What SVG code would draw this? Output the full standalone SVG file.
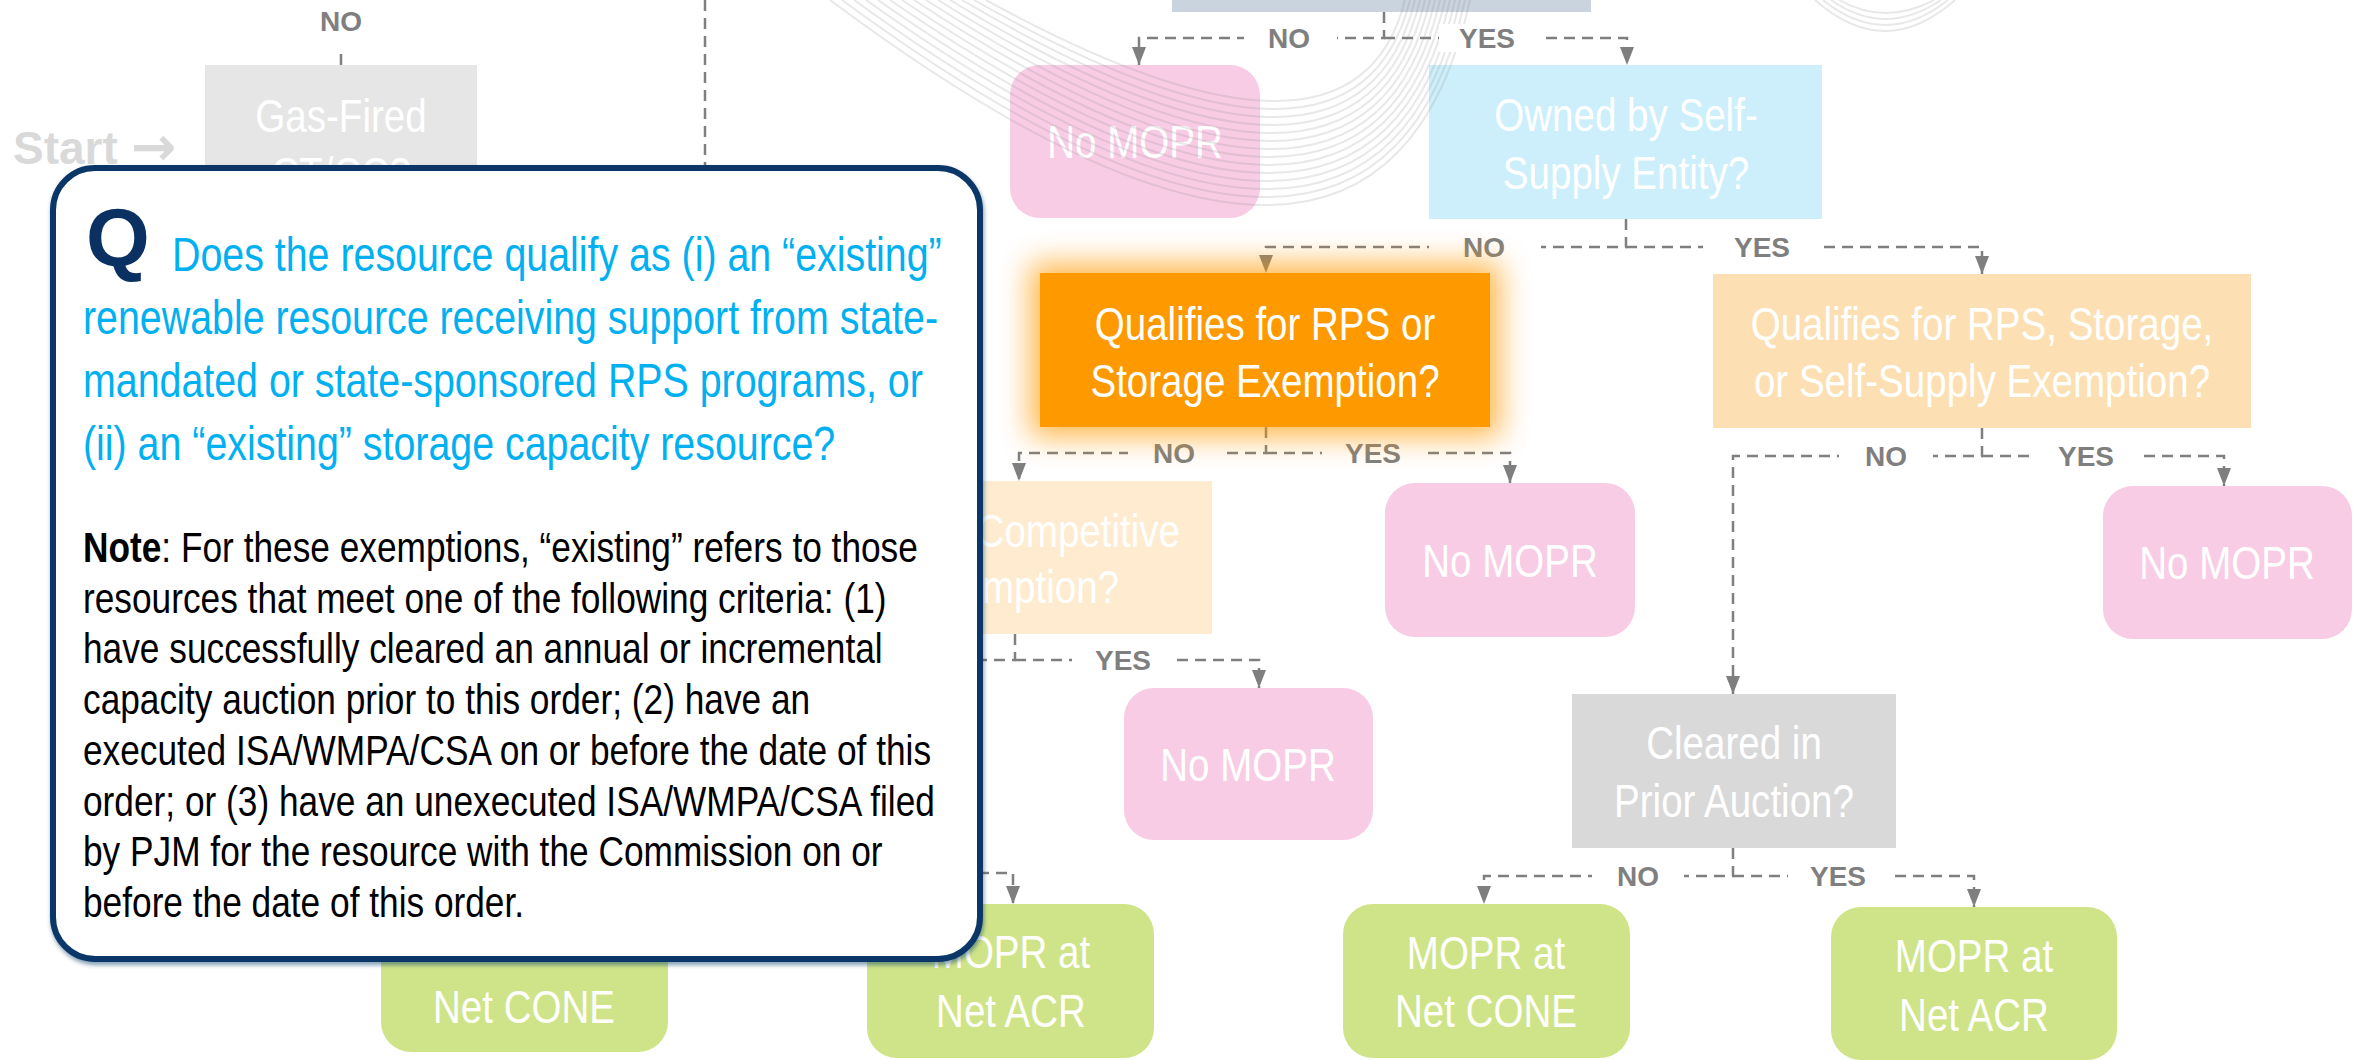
<svg xmlns="http://www.w3.org/2000/svg" width="2369" height="1060" viewBox="0 0 2369 1060">
<defs>
<style>
.nt{font-family:"Liberation Sans Narrow","Liberation Sans",Arial,sans-serif;font-size:47px;fill:#fff;text-anchor:middle}
.ne{text-anchor:end}
.lb{font-family:"Liberation Sans",Arial,sans-serif;font-weight:bold;font-size:28px;fill:#7f7f7f;text-anchor:middle}
.cn{fill:none;stroke:#7f7f7f;stroke-width:2.5;stroke-dasharray:11 7}
.ar{marker-end:url(#ah)}
.lbg{fill:#fff}
.pink{fill:#f8cce5}
.green{fill:#cfe488}
.arc{fill:none;stroke:#8a8a8a;stroke-opacity:.2;stroke-width:2}
.q{font-family:"Liberation Sans Narrow","Liberation Sans",Arial,sans-serif;font-size:48px;fill:#00b0f0}
.nb{font-family:"Liberation Sans Narrow","Liberation Sans",Arial,sans-serif;font-size:42px;fill:#000}
</style>
<marker id="ah" markerUnits="userSpaceOnUse" markerWidth="18" markerHeight="14" refX="18" refY="7" orient="auto"><path d="M0,0 L18,7 L0,14 z" fill="#7f7f7f"/></marker>
<filter id="glow" x="-30%" y="-60%" width="160%" height="220%"><feGaussianBlur stdDeviation="15"/></filter>
<filter id="sh" x="-5%" y="-5%" width="110%" height="110%"><feGaussianBlur stdDeviation="2"/></filter>
</defs>
<rect width="2369" height="1060" fill="#fff"/>

<g id="start">
<text x="13" y="164" font-family="Liberation Sans,Arial,sans-serif" font-weight="bold" font-size="46" fill="#d9d9d9">Start</text>
<text x="131" y="165" font-family="DejaVu Sans,sans-serif" font-weight="bold" font-size="54" fill="#d9d9d9">→</text>
</g>

<g id="n-top"><rect x="1172" y="-20" width="419" height="32" fill="#c9d4df"/></g>
<g id="n-gas"><rect x="205" y="65" width="272" height="160" fill="#e6e6e6"/>
<text class="nt" transform="translate(341 132) scale(.82 1)">Gas-Fired</text><text class="nt" transform="translate(341 190) scale(.82 1)">CT/CC?</text></g>
<g id="n-nomopr1"><rect class="pink" x="1010" y="65" width="250" height="153" rx="30"/><text class="nt" transform="translate(1135 158) scale(.82 1)">No MOPR</text></g>
<g id="n-selfsupply"><rect x="1429" y="65" width="393" height="154" fill="#ccefFb"/>
<text class="nt" transform="translate(1626 131) scale(.82 1)">Owned by Self-</text><text class="nt" transform="translate(1626 189) scale(.82 1)">Supply Entity?</text></g>
<g id="n-rps3"><rect x="1713" y="274" width="538" height="154" fill="#fddfb4"/>
<text class="nt" transform="translate(1982 340) scale(.82 1)">Qualifies for RPS, Storage,</text><text class="nt" transform="translate(1982 397) scale(.82 1)">or Self-Supply Exemption?</text></g>
<g id="n-comp"><rect x="826" y="481" width="386" height="153" fill="#feebd0"/>
<text class="nt ne" transform="translate(1180 547) scale(.82 1)">Competitive</text><text class="nt ne" transform="translate(1119 603) scale(.82 1)">Exemption?</text></g>
<g id="n-nomopr2"><rect class="pink" x="1385" y="483" width="250" height="154" rx="30"/><text class="nt" transform="translate(1510 577) scale(.82 1)">No MOPR</text></g>
<g id="n-nomopr3"><rect class="pink" x="2103" y="486" width="249" height="153" rx="30"/><text class="nt" transform="translate(2227 579) scale(.82 1)">No MOPR</text></g>
<g id="n-nomopr4"><rect class="pink" x="1124" y="688" width="249" height="152" rx="30"/><text class="nt" transform="translate(1248 781) scale(.82 1)">No MOPR</text></g>
<g id="n-cleared"><rect x="1572" y="694" width="324" height="154" fill="#d9d9d9"/>
<text class="nt" transform="translate(1734 759) scale(.82 1)">Cleared in</text><text class="nt" transform="translate(1734 817) scale(.82 1)">Prior Auction?</text></g>
<g id="n-cone1"><rect class="green" x="381" y="899" width="287" height="153" rx="30"/><text class="nt" transform="translate(524 1023) scale(.82 1)">Net CONE</text></g>
<g id="n-acr1"><rect class="green" x="867" y="904" width="287" height="154" rx="30"/><text class="nt" transform="translate(1011 968) scale(.82 1)">MOPR at</text><text class="nt" transform="translate(1011 1027) scale(.82 1)">Net ACR</text></g>
<g id="n-cone2"><rect class="green" x="1343" y="904" width="287" height="154" rx="30"/><text class="nt" transform="translate(1486 969) scale(.82 1)">MOPR at</text><text class="nt" transform="translate(1486 1027) scale(.82 1)">Net CONE</text></g>
<g id="n-acr2"><rect class="green" x="1831" y="907" width="286" height="153" rx="30"/><text class="nt" transform="translate(1974 972) scale(.82 1)">MOPR at</text><text class="nt" transform="translate(1974 1031) scale(.82 1)">Net ACR</text></g>

<g id="arcs">
<path class="arc" d="M830,0 Q1380,410 1470,0"/>
<path class="arc" d="M842,0 Q1378,394 1465,0"/>
<path class="arc" d="M854,0 Q1376,378 1460,0"/>
<path class="arc" d="M866,0 Q1374,362 1455,0"/>
<path class="arc" d="M878,0 Q1372,346 1450,0"/>
<path class="arc" d="M890,0 Q1370,330 1445,0"/>
<path class="arc" d="M902,0 Q1368,314 1440,0"/>
<path class="arc" d="M914,0 Q1366,298 1435,0"/>
<path class="arc" d="M926,0 Q1364,282 1430,0"/>
<path class="arc" d="M938,0 Q1362,266 1425,0"/>
<path class="arc" d="M950,0 Q1360,250 1420,0"/>
<path class="arc" d="M962,0 Q1358,234 1415,0"/>
<path class="arc" d="M974,0 Q1356,218 1410,0"/>
<path class="arc" d="M986,0 Q1354,202 1405,0"/>
<path class="arc" d="M1815,0 Q1885,62 1955,0"/>
<path class="arc" d="M1823,0 Q1885,50 1948,0"/>
<path class="arc" d="M1831,0 Q1885,38 1941,0"/>
<path class="arc" d="M1839,0 Q1885,26 1934,0"/>
</g>

<g id="connectors">
<path class="cn" d="M705,0 V170"/>
<path class="cn" d="M341,54 V65"/>
<path class="cn ar" d="M1384,12 V38 H1139 V65"/>
<path class="cn ar" d="M1384,38 H1627 V65"/>
<path class="cn ar" d="M1626,219 V247 H1266 V273"/>
<path class="cn ar" d="M1626,247 H1982 V274"/>
<path class="cn ar" d="M1266,427 V453 H1019 V481"/>
<path class="cn ar" d="M1266,453 H1510 V483"/>
<path class="cn ar" d="M1982,428 V456 H1733 V694"/>
<path class="cn ar" d="M1982,456 H2224 V486"/>
<path class="cn" d="M1015,634 V660 H960"/>
<path class="cn ar" d="M1015,660 H1259 V688"/>
<path class="cn ar" d="M1733,848 V876 H1484 V904"/>
<path class="cn ar" d="M1733,876 H1974 V907"/>
<path class="cn ar" d="M960,873 H1013 V904"/>
</g>

<g id="labels">
<text class="lb" x="341" y="31">NO</text>
<rect class="lbg" x="1244" y="12" width="93" height="53"/><text class="lb" x="1289" y="48">NO</text>
<rect class="lbg" x="1439" y="24" width="105" height="28"/><text class="lb" x="1487" y="48">YES</text>
<rect class="lbg" x="1429" y="233" width="112" height="28"/><text class="lb" x="1484" y="257">NO</text>
<rect class="lbg" x="1703" y="233" width="117" height="28"/><text class="lb" x="1762" y="257">YES</text>
<rect class="lbg" x="1128" y="439" width="92" height="28"/><text class="lb" x="1174" y="463">NO</text>
<rect class="lbg" x="1322" y="439" width="102" height="28"/><text class="lb" x="1373" y="463">YES</text>
<rect class="lbg" x="1839" y="442" width="94" height="28"/><text class="lb" x="1886" y="466">NO</text>
<rect class="lbg" x="2035" y="442" width="102" height="28"/><text class="lb" x="2086" y="466">YES</text>
<rect class="lbg" x="1072" y="646" width="102" height="28"/><text class="lb" x="1123" y="670">YES</text>
<rect class="lbg" x="1592" y="862" width="92" height="28"/><text class="lb" x="1638" y="886">NO</text>
<rect class="lbg" x="1788" y="862" width="101" height="28"/><text class="lb" x="1838" y="886">YES</text>
</g>

<g id="n-rps2">
<rect x="1030" y="263" width="470" height="174" fill="#ff9900" opacity=".7" filter="url(#glow)"/>
<rect x="1040" y="273" width="450" height="154" fill="#ff9900"/>
<text class="nt" transform="translate(1265 340) scale(.82 1)">Qualifies for RPS or</text><text class="nt" transform="translate(1265 397) scale(.82 1)">Storage Exemption?</text>
</g>

<g id="callout">
<rect x="54" y="171" width="927" height="791" rx="42" fill="none" stroke="#0b3768" stroke-opacity=".5" stroke-width="6" filter="url(#sh)"/>
<rect x="53" y="168" width="927" height="791" rx="42" fill="#fff" stroke="#0b3768" stroke-width="6"/>
<text x="86" y="266" font-family="Liberation Sans,Arial,sans-serif" font-weight="bold" font-size="82" fill="#0a3161">Q</text>
<text class="q" transform="translate(172 271) scale(.82 1)">Does the resource qualify as (i) an “existing”</text>
<text class="q" transform="translate(83 334) scale(.82 1)">renewable resource receiving support from state-</text>
<text class="q" transform="translate(83 397) scale(.82 1)">mandated or state-sponsored RPS programs, or</text>
<text class="q" transform="translate(83 460) scale(.82 1)">(ii) an “existing” storage capacity resource?</text>
<text class="nb" transform="translate(83 562) scale(.84 1)"><tspan font-weight="bold">Note</tspan>: For these exemptions, “existing” refers to those</text>
<text class="nb" transform="translate(83 613) scale(.84 1)">resources that meet one of the following criteria: (1)</text>
<text class="nb" transform="translate(83 663) scale(.84 1)">have successfully cleared an annual or incremental</text>
<text class="nb" transform="translate(83 714) scale(.84 1)">capacity auction prior to this order; (2) have an</text>
<text class="nb" transform="translate(83 765) scale(.84 1)">executed ISA/WMPA/CSA on or before the date of this</text>
<text class="nb" transform="translate(83 816) scale(.84 1)">order; or (3) have an unexecuted ISA/WMPA/CSA filed</text>
<text class="nb" transform="translate(83 866) scale(.84 1)">by PJM for the resource with the Commission on or</text>
<text class="nb" transform="translate(83 917) scale(.84 1)">before the date of this order.</text>
</g>
</svg>
